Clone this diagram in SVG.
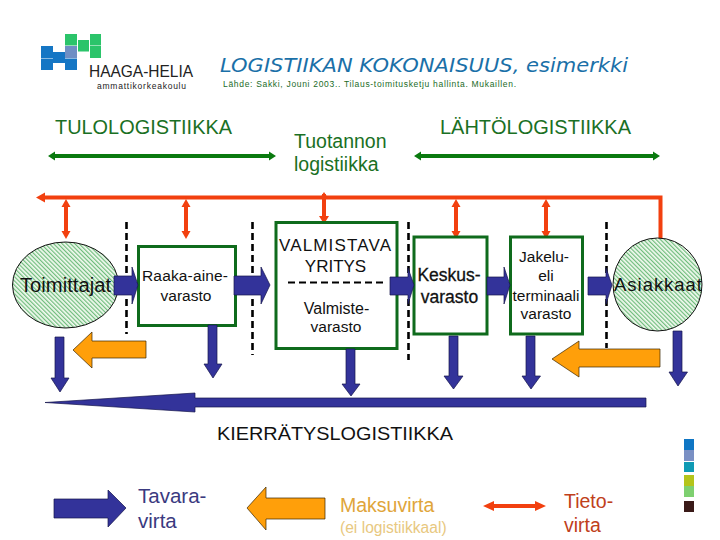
<svg xmlns="http://www.w3.org/2000/svg" width="720" height="540" viewBox="0 0 720 540">
<style>
text{font-family:"Liberation Sans",Arial,sans-serif}
.box{fill:#fff;stroke:#0f6b1c;stroke-width:3}
.ell{fill:url(#hatch);stroke:#111;stroke-width:1}
.blue{fill:#33339a;stroke:#14144a;stroke-width:.7}
.org{fill:#ff9f0a;stroke:#3a2500;stroke-width:.7}
.red{stroke:#f2400f;stroke-width:4;fill:none}
.redh{fill:#f2400f}
.grn{stroke:#0a7a0f;stroke-width:4;fill:none}
.grnh{fill:#0a7a0f}
.dash{stroke:#000;stroke-width:2.6;stroke-dasharray:7 4;fill:none}
.k{fill:#111}
.g{fill:#1a7024}
</style>
<defs>
<pattern id="hatch" width="3" height="3" patternUnits="userSpaceOnUse" patternTransform="rotate(-45)">
<rect width="3" height="3" fill="#f2faf0"/><rect width="1.2" height="3" fill="#6fbc7c"/>
</pattern>
</defs>
<rect width="720" height="540" fill="#fff"/>
<g id="logo">
<rect x="41" y="46" width="12" height="12" fill="#1576c4"/><rect x="41" y="58.500" width="12" height="11.500" fill="#1576c4"/>
<rect x="53" y="52" width="12" height="11" fill="#1576c4"/>
<rect x="65" y="46" width="12" height="12" fill="#6f8fc4"/><rect x="65" y="58.500" width="12" height="11.500" fill="#1576c4"/>
<rect x="65" y="34" width="12" height="11.500" fill="#2bc46a"/>
<rect x="78" y="40" width="11" height="11.500" fill="#2bc46a"/>
<rect x="90" y="34" width="11" height="11.500" fill="#2bc46a"/><rect x="90" y="46" width="11" height="12" fill="#2bc46a"/>
<text x="89" y="77" font-size="16" fill="#222" textLength="104" lengthAdjust="spacingAndGlyphs">HAAGA-HELIA</text>
<text x="97" y="89" font-size="8.500" fill="#222" textLength="89" lengthAdjust="spacing">ammattikorkeakoulu</text>
</g>
<g id="title">
<text x="220" y="72" font-size="19" font-style="italic" fill="#1a70a8" style="font-family:'DejaVu Sans',sans-serif" textLength="408" lengthAdjust="spacingAndGlyphs">LOGISTIIKAN KOKONAISUUS, esimerkki</text>
<text x="223" y="87" font-size="8.500" fill="#1a6b1f" textLength="293" lengthAdjust="spacing">Lähde: Sakki, Jouni 2003.. Tilaus-toimitusketju hallinta. Mukaillen.</text>
</g>
<g id="heads">
<text x="55" y="134" font-size="19.500" class="g" textLength="177" lengthAdjust="spacingAndGlyphs">TULOLOGISTIIKKA</text>
<text x="294" y="148" font-size="19.500" class="g">Tuotannon</text>
<text x="294" y="171" font-size="19.500" class="g">logistiikka</text>
<text x="440" y="134" font-size="19.500" class="g" textLength="191" lengthAdjust="spacingAndGlyphs">LÄHTÖLOGISTIIKKA</text>
</g>
<g id="connectors">
<path class="grn" d="M52 156H272M418 156H656"/>
<path class="grnh" d="M48 156l7-4.500v9zM276 156l-7-4.500v9zM414 156l7-4.500v9zM660 156l-7-4.500v9z"/>
<path class="dash" d="M126.500 222V334M252.500 222V355M408.500 222V360M606.500 222V348"/>
<path class="red" d="M42 197.500H660.500V246"/>
<path class="redh" d="M36 197.500l9-5v10zM660.500 252l-6-9h12z"/>
<path class="red" d="M66 204V234M186 204V234M324 194V216M456 204V231M546 204V231"/>
<path class="redh" d="M66 199l-4.500 8h9zM66 239l-4.500-8h9zM186 199l-4.500 8h9zM186 239l-4.500-8h9zM324 192l-4 6h8zM324 224l-5-8h10zM456 199l-4.500 8h9zM456 239l-4.500-8h9zM546 199l-4.500 8h9zM546 239l-4.500-8h9z"/>
</g>
<g id="toimittajat">
<ellipse class="ell" cx="65.500" cy="285" rx="53" ry="43"/>
<text x="65.500" y="292" font-size="19.500" text-anchor="middle" class="k" textLength="91" lengthAdjust="spacingAndGlyphs">Toimittajat</text>
</g>
<g id="raaka">
<rect class="box" x="138.500" y="246.500" width="97" height="79"/>
<text x="185" y="281" font-size="15.500" text-anchor="middle" class="k" textLength="86" lengthAdjust="spacing">Raaka-aine-</text>
<text x="186" y="301" font-size="15.500" text-anchor="middle" class="k">varasto</text>
</g>
<g id="valmistava">
<rect class="box" x="276" y="222.500" width="121" height="126"/>
<text x="335" y="251" font-size="17" text-anchor="middle" class="k" textLength="112" lengthAdjust="spacing">VALMISTAVA</text>
<text x="335.500" y="272" font-size="17" text-anchor="middle" class="k">YRITYS</text>
<path d="M288 282.500H384" stroke="#000" stroke-width="2" stroke-dasharray="7 4" fill="none"/>
<text x="336.500" y="314" font-size="16" text-anchor="middle" class="k">Valmiste-</text>
<text x="336" y="332" font-size="15.500" text-anchor="middle" class="k">varasto</text>
</g>
<g id="keskus">
<rect class="box" x="414" y="237" width="73" height="97"/>
<text x="449" y="281" font-size="17.500" stroke="#111" stroke-width=".3" text-anchor="middle" class="k">Keskus-</text>
<text x="449.500" y="303" font-size="17.500" stroke="#111" stroke-width=".3" text-anchor="middle" class="k">varasto</text>
</g>
<g id="jakelu">
<rect class="box" x="510.500" y="237" width="72" height="97"/>
<text x="544" y="262" font-size="15.500" text-anchor="middle" class="k">Jakelu-</text>
<text x="546" y="281" font-size="15.500" text-anchor="middle" class="k">eli</text>
<text x="546" y="301" font-size="15.500" text-anchor="middle" class="k" textLength="67" lengthAdjust="spacing">terminaali</text>
<text x="546" y="319" font-size="15.500" text-anchor="middle" class="k">varasto</text>
</g>
<g id="asiakkaat">
<ellipse class="ell" cx="657.500" cy="284.500" rx="44.500" ry="46.500"/>
<text x="658" y="291" font-size="18.500" text-anchor="middle" class="k" textLength="88" lengthAdjust="spacing">Asiakkaat</text>
</g>
<g id="flows">
<path class="blue" d="M114 276H132V267L138 285L132 304V295H114Z"/>
<path class="blue" d="M234 276H261V267L270 285L261 304V295H234Z"/>
<path class="blue" d="M390 277H408V268L414 285L408 304V295H390Z"/>
<path class="blue" d="M487 277H504V267L510 285L504 304V295H487Z"/>
<path class="blue" d="M588 277H606V268L612 285L606 304V295H588Z"/>
<path class="blue" d="M55 337H64V378H69L60 392L51 378H55Z"/>
<path class="blue" d="M208 325H217V364H222L213 378L204 364H208Z"/>
<path class="blue" d="M346 349H355V384H360L351 396L342 384H346Z"/>
<path class="blue" d="M449 336H458V376H463L453.500 389L444 376H449Z"/>
<path class="blue" d="M526 336H535V376H540.500L531 389L522 376H526Z"/>
<path class="blue" d="M673 331H682V372H687.500L678 386L669 372H673Z"/>
<path class="blue" d="M45 402.500L195 393V398H646V407H195V412Z"/>
<path class="org" d="M73 350L92 332V341H146V358H92V368Z"/>
<path class="org" d="M552 359L579 341V349H660V367H579V377Z"/>
</g>
<g id="recycle"><text x="335" y="440" font-size="19" text-anchor="middle" class="k" textLength="236" lengthAdjust="spacingAndGlyphs">KIERRÄTYSLOGISTIIKKA</text></g>
<g id="legend">
<path class="blue" d="M54 499H108V490L126 508L108 527V518H54Z"/>
<text x="138" y="503" font-size="20.500" fill="#3a3a80">Tavara-</text>
<text x="138" y="528" font-size="20.500" fill="#3a3a80">virta</text>
<path class="org" d="M247 508L266 487V498H325V519H266V530Z"/>
<text x="340" y="512" font-size="19.500" fill="#e0a53a">Maksuvirta</text>
<text x="340" y="533" font-size="15.600" fill="#e8c880">(ei logistiikkaal)</text>
<path class="red" d="M490 506H540"/>
<path class="redh" d="M483 506l11-5v10zM546 506l-11-5v10z"/>
<text x="564" y="508" font-size="19.500" fill="#c0401a">Tieto-</text>
<text x="564" y="532" font-size="19.500" fill="#c0401a">virta</text>
</g>
<g id="band">
<rect x="684" y="439" width="10" height="11" fill="#0f76c4"/><rect x="684" y="450" width="10" height="11" fill="#7a90c4"/>
<rect x="684" y="462" width="10" height="10" fill="#0f9ab4"/><rect x="684" y="475" width="10" height="11" fill="#b4c41a"/>
<rect x="684" y="486" width="10" height="11" fill="#7ed070"/><rect x="684" y="501" width="10" height="11" fill="#3a1a18"/>
</g>
</svg>
